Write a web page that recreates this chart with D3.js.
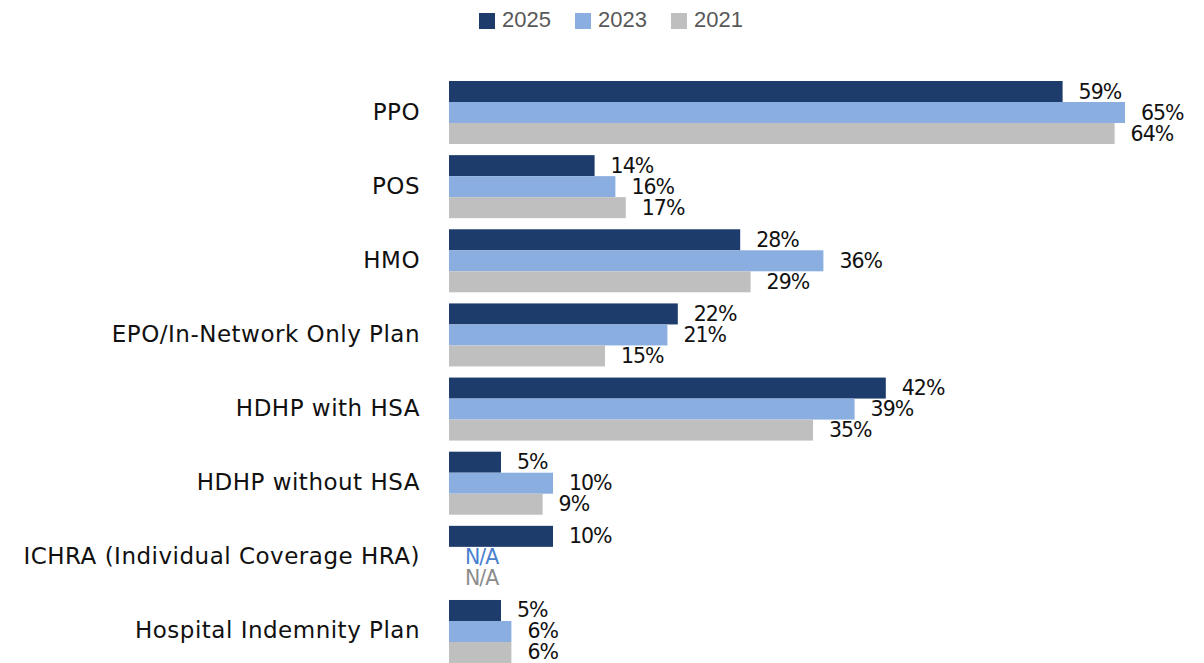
<!DOCTYPE html>
<html>
<head>
<meta charset="utf-8">
<script src="https://cdn.jsdelivr.net/npm/d3@7"></script>
<style>
  body { margin: 0; background: #fff; }
  svg { display: block; }
</style>
</head>
<body>
<div class="chart"></div>
<script>
// chart data
var categories = ["PPO", "POS", "HMO", "EPO/In-Network Only Plan", "HDHP with HSA",
    "HDHP without HSA", "ICHRA (Individual Coverage HRA)", "Hospital Indemnity Plan"];
var years = ["2025", "2023", "2021"];
var values2025 = [59, 14, 28, 22, 42, 5, 10, 5];
var values2023 = [65, 16, 36, 21, 39, 10, null, 6];
var values2021 = [64, 17, 29, 15, 35, 9, null, 6];

var width = 1204, height = 663;
var colors = { "2025": "#1d3c6b", "2023": "#8aaee0", "2021": "#bfbfbf" };
var naColors = { "2025": "#1d3c6b", "2023": "#4a7fd0", "2021": "#8c8c8c" };
var labelFont = "'DejaVu Sans', sans-serif";

var seriesByYear = { "2025": values2025, "2023": values2023, "2021": values2021 };

var svg = d3.select(".chart").append("svg")
    .attr("width", width)
    .attr("height", height);

// scales
var x = d3.scaleLinear().domain([0, 70]).range([449, 449 + 728]);
var y0 = d3.scaleBand().domain(categories).range([81, 663]).paddingInner(0.15).paddingOuter(0);
var y1 = d3.scaleBand().domain(years).range([0, y0.bandwidth()]);

var groups = svg.selectAll("g.group")
    .data(categories)
    .enter()
    .append("g")
    .attr("class", "group")
    .attr("transform", function (d) { return "translate(0," + y0(d) + ")"; });

// category labels
groups.append("text")
    .attr("x", 420)
    .attr("y", y0.bandwidth() / 2 + 7)
    .attr("text-anchor", "end")
    .style("font-family", labelFont)
    .style("font-size", "23px")
    .style("letter-spacing", "0.5px")
    .style("fill", "#111")
    .text(function (d) { return d; });

// bars + value labels
groups.each(function (cat, i) {
    var g = d3.select(this);
    years.forEach(function (yr) {
        var v = seriesByYear[yr][i];
        if (v != null) {
            g.append("rect")
                .attr("x", x(0))
                .attr("y", y1(yr))
                .attr("width", x(v) - x(0))
                .attr("height", y1.bandwidth())
                .style("fill", colors[yr]);
        }
        g.append("text")
            .attr("x", v != null ? x(v) + 16 : x(0) + 16)
            .attr("y", y1(yr) + y1.bandwidth() / 2 + 7)
            .style("font-family", labelFont)
            .style("font-size", "20.5px")
            .style("letter-spacing", "-1px")
            .style("fill", v != null ? "#111" : naColors[yr])
            .text(v != null ? v + "%" : "N/A");
    });
});

// legend
var legendX = [479, 575, 671];
var legend = svg.selectAll("g.legend")
    .data(years)
    .enter()
    .append("g")
    .attr("class", "legend")
    .attr("transform", function (d, i) { return "translate(" + legendX[i] + ",13)"; });

legend.append("rect")
    .attr("width", 16)
    .attr("height", 16)
    .style("fill", function (d) { return colors[d]; });

legend.append("text")
    .attr("x", 23)
    .attr("y", 14)
    .style("font-family", "'Liberation Sans', Arial, sans-serif")
    .style("font-size", "22px")
    .style("fill", "#595959")
    .text(function (d) { return d; });
</script>
</body>
</html>
